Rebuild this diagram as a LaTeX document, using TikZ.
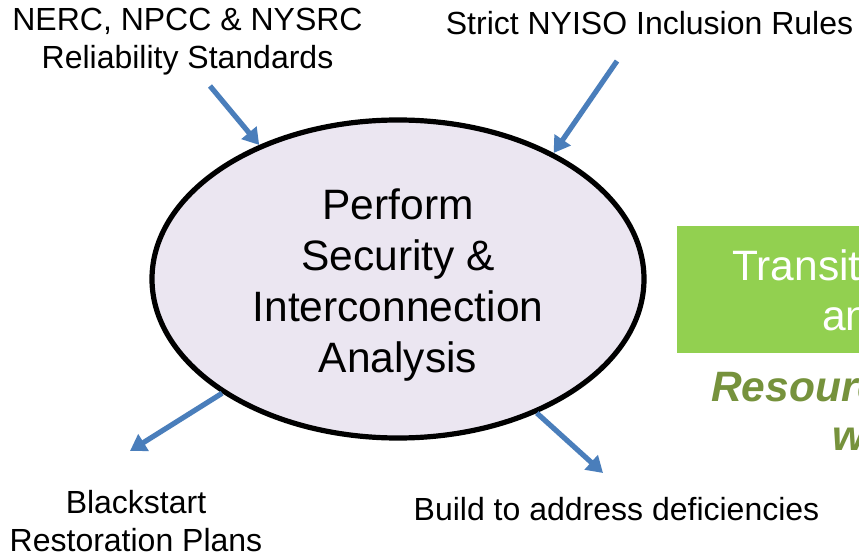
\documentclass[tikz,border=0pt]{standalone}
\usepackage{fontspec}
\setmainfont{Liberation Sans}
\usetikzlibrary{arrows.meta,shapes.geometric}
\definecolor{arrowblue}{HTML}{4A7EBB}
\definecolor{ellfill}{HTML}{EBE6F1}
\definecolor{boxgreen}{HTML}{92D050}
\definecolor{olive}{HTML}{76923C}
\tikzset{
  flow/.style={draw=arrowblue, line width=5.2bp, -{Triangle[length=16bp,width=19bp]}},
  lab/.style={align=center, inner sep=0pt, font=\fontsize{32bp}{38.4bp}\selectfont},
  big/.style={inner sep=0pt, anchor=base west, font=\fontsize{42.5bp}{51bp}\selectfont},
}
\begin{document}
\begin{tikzpicture}[x=1bp, y=-1bp]
\useasboundingbox (0,0) rectangle (859,553);
\clip (0,0) rectangle (859,553);
\fill[white] (0,0) rectangle (859,553);

\node[ellipse, draw=black, line width=5.2bp, fill=ellfill, minimum width=492bp, minimum height=318bp, inner sep=0pt] (ell) at (398,279) {};
\node[align=center, inner sep=0pt, font=\fontsize{42.5bp}{51bp}\selectfont] (elltext) at (398,285.5)
  {Perform\\Security \&\\Interconnection\\Analysis};

\node[lab] (nerc) at (187.5,41.5) {NERC, NPCC \& NYSRC\\Reliability Standards};
\node[lab] (strict) at (649.5,23) {Strict NYISO Inclusion Rules};
\node[lab] (black) at (136,521) {Blackstart\\Restoration Plans};
\node[lab] (build) at (616.5,509.5) {Build to address deficiencies};

\coordinate (t1) at (210,86);
\coordinate (t2) at (617,61);
\coordinate (h3) at (130,451);
\coordinate (h4) at (603,473);

\draw[flow] (t1) -- (ell.136);
\draw[flow] (t2) -- (ell.39);
\draw[flow] (ell.213) -- (h3);
\draw[flow] (ell.316) -- (h4);

\node[fill=boxgreen, minimum width=260bp, minimum height=127bp, anchor=north west, inner sep=0pt] (gbox) at (677,226) {};
\node[big, text=white] (gt1) at (732,281) {Transition};
\node[big, text=white] (gt2) at (822,331) {and};
\node[big, text=olive, font=\fontsize{42.5bp}{51bp}\selectfont\bfseries\itshape] (rt1) at (711,401.5) {Resources};
\node[big, text=olive, font=\fontsize{42.5bp}{51bp}\selectfont\bfseries\itshape] (rt2) at (832,450.5) {will};
\end{tikzpicture}
\end{document}
